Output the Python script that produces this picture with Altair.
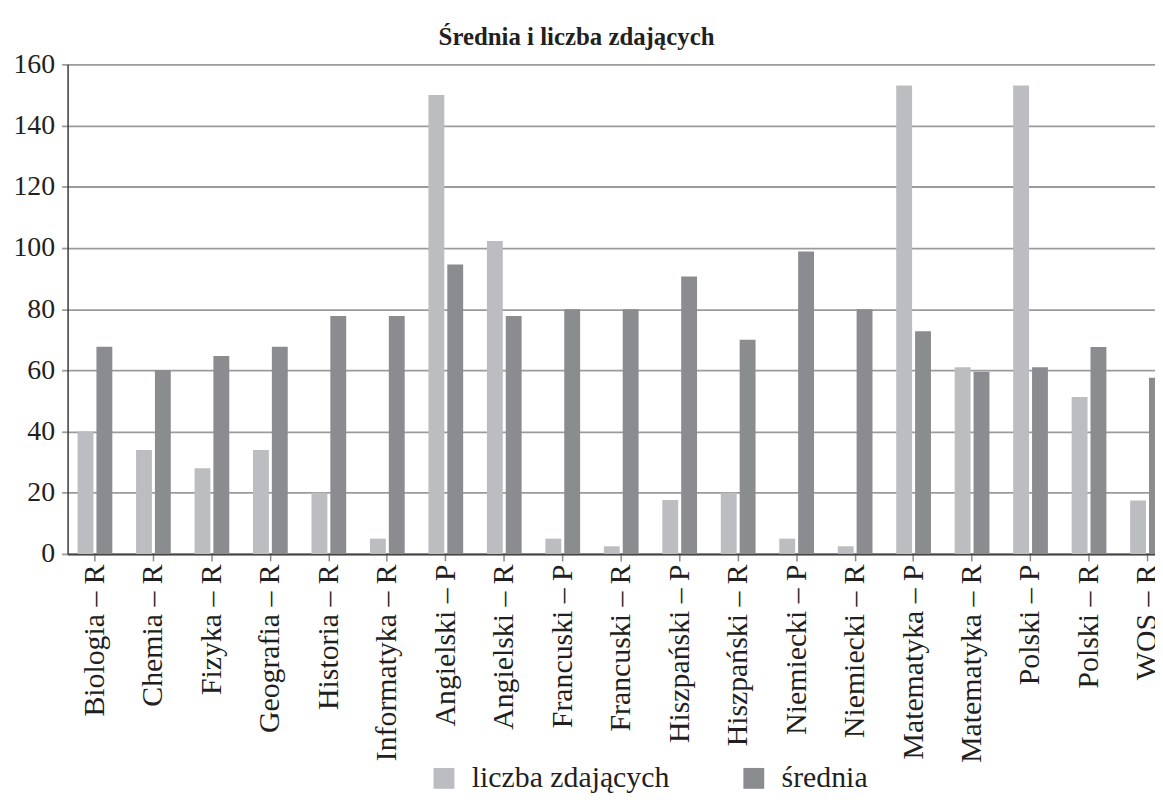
import altair as alt
import pandas as pd

categories = [
    "Biologia – R", "Chemia – R", "Fizyka – R", "Geografia – R", "Historia – R",
    "Informatyka – R", "Angielski – P", "Angielski – R", "Francuski – P",
    "Francuski – R", "Hiszpański – P", "Hiszpański – R", "Niemiecki – P",
    "Niemiecki – R", "Matematyka – P", "Matematyka – R", "Polski – P",
    "Polski – R", "WOS – R",
]
liczba_zdajacych = [40, 34, 28, 34, 20, 5, 150, 102.3, 5, 2.5, 17.6, 20, 5, 2.5,
                    153.1, 61, 153.1, 51.3, 17.5]
srednia = [67.7, 60, 64.7, 67.7, 77.8, 77.8, 94.6, 77.8, 80, 80, 90.7, 70, 98.8,
           80, 72.8, 59.5, 61, 67.6, 57.6]
series_names = ["liczba zdających", "średnia"]
series_colors = ["#bcbdc0", "#8b8c90"]
y_ticks = [0, 20, 40, 60, 80, 100, 120, 140, 160]

rows = []
for i, c in enumerate(categories):
    rows.append({"przedmiot": c, "seria": series_names[0], "wartosc": liczba_zdajacych[i]})
    rows.append({"przedmiot": c, "seria": series_names[1], "wartosc": srednia[i]})
df = pd.DataFrame(rows)

FONT = "Liberation Serif"

chart = alt.Chart(df).mark_bar().encode(
    x=alt.X(
        "przedmiot:N",
        sort=categories,
        scale=alt.Scale(range=[0, 1115], paddingInner=0.406, paddingOuter=0.171),
        axis=alt.Axis(
            title=None, labelAngle=-90, labelFont=FONT, labelFontSize=30,
            labelColor="#231f20", tickSize=7, tickColor="#8a8a8a", tickWidth=1.5,
            labelPadding=3, domainColor="#444444", domainWidth=2, labelLimit=400,
            labelOverlap=False, grid=False,
        ),
    ),
    xOffset=alt.XOffset(
        "seria:N", sort=series_names,
        scale=alt.Scale(paddingInner=0.158, paddingOuter=0),
    ),
    y=alt.Y(
        "wartosc:Q",
        scale=alt.Scale(domain=[0, 160], nice=False),
        axis=alt.Axis(
            title=None, values=y_ticks, labelFont=FONT, labelFontSize=28,
            labelColor="#231f20", tickSize=6, tickColor="#9b9b9b", tickWidth=1.8,
            labelPadding=7, domainColor="#3a3a3a", domainWidth=1.5,
            gridColor="#9b9b9b", gridWidth=1.8,
        ),
    ),
    color=alt.Color(
        "seria:N",
        sort=series_names,
        scale=alt.Scale(domain=series_names, range=series_colors),
        legend=alt.Legend(
            title=None, orient="none", legendX=364, legendY=704,
            direction="horizontal", symbolType="square", symbolSize=441,
            symbolStrokeWidth=0, symbolOpacity=1, labelFont=FONT, labelFontSize=30,
            labelColor="#231f20", labelOffset=13, columnPadding=69, padding=0,
            labelLimit=400,
        ),
    ),
).properties(
    width=1095,
    height=493,
    padding={"left": 60, "top": 54, "right": 0, "bottom": 240},
    autosize=alt.AutoSizeParams(type="none"),
    title=alt.TitleParams(
        "Średnia i liczba zdających", font=FONT, fontSize=25, fontWeight="bold",
        color="#231f20", anchor="middle", frame="group", dx=-35, dy=37, offset=17,
        baseline="alphabetic",
    ),
).configure_view(strokeWidth=0).configure_legend(
    labelFont=FONT
).configure_axis(labelFont=FONT).configure_title(font=FONT)

chart.save("out.html", embed_options={"renderer": "svg", "actions": False})
